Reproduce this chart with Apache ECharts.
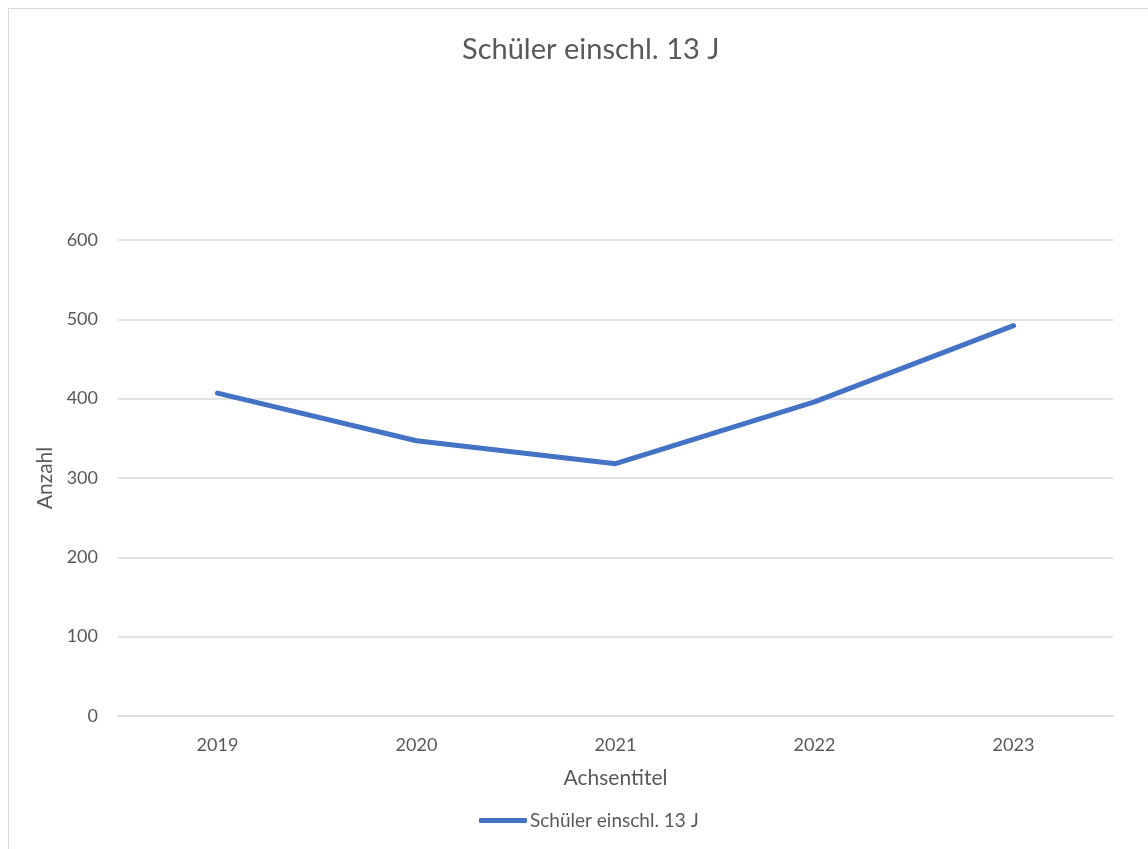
<!DOCTYPE html>
<html>
<head>
<meta charset="utf-8">
<script src="https://cdn.jsdelivr.net/npm/echarts@6/dist/echarts.min.js"></script>
<style>
  html, body { margin: 0; padding: 0; background: #fff; }
  #frame { position: absolute; left: 8px; top: 8px; width: 1150px; height: 850px; border: 1px solid #d9d9d9; box-sizing: border-box; }
  #main { position: absolute; left: 0; top: 0; width: 1148px; height: 849px; }
</style>
</head>
<body>
<div id="frame"></div>
<div id="main"></div>
<script>
var years = ['2019', '2020', '2021', '2022', '2023'];
var schueler = [407, 347, 318, 396, 492];
var seriesName = 'Schüler einschl. 13 J';

var myChart = echarts.init(document.getElementById('main'));
var fontFam = 'Lato, "Open Sans", sans-serif';

option = {
    backgroundColor: 'transparent',
    textStyle: { fontFamily: fontFam },
    title: {
        text: seriesName,
        left: 457,
        top: 30,
        textStyle: { fontSize: 29, fontWeight: 'normal', color: '#595959', fontFamily: fontFam }
    },
    legend: {
        bottom: 14,
        left: 474,
        icon: 'roundRect',
        itemWidth: 48,
        itemHeight: 5,
        textStyle: { fontSize: 19, color: '#595959', fontFamily: fontFam, padding: [0, 0, 0, -2] },
        data: [seriesName]
    },
    grid: {
        left: 118,
        right: 35,
        top: 240,
        bottom: 133
    },
    xAxis: {
        type: 'category',
        data: years,
        name: 'Achsentitel',
        nameLocation: 'middle',
        nameGap: 52,
        nameTextStyle: { fontSize: 21, color: '#595959' },
        axisLine: { lineStyle: { color: '#d9d9d9', width: 1.5 } },
        axisTick: { show: false },
        axisLabel: { fontSize: 18, color: '#595959', margin: 20 }
    },
    yAxis: {
        type: 'value',
        min: 0,
        max: 600,
        interval: 100,
        name: 'Anzahl',
        nameLocation: 'middle',
        nameGap: 62,
        nameTextStyle: { fontSize: 21, color: '#595959' },
        axisLine: { show: false },
        axisTick: { show: false },
        axisLabel: { fontSize: 18, color: '#595959', margin: 20 },
        splitLine: { lineStyle: { color: '#d9d9d9', width: 1.5 } }
    },
    series: [{
        name: seriesName,
        type: 'line',
        data: schueler,
        symbol: 'none',
        color: '#4472C4',
        lineStyle: { width: 5, color: '#4472C4', cap: 'round', join: 'round' }
    }]
};
myChart.setOption(option);
</script>
</body>
</html>
